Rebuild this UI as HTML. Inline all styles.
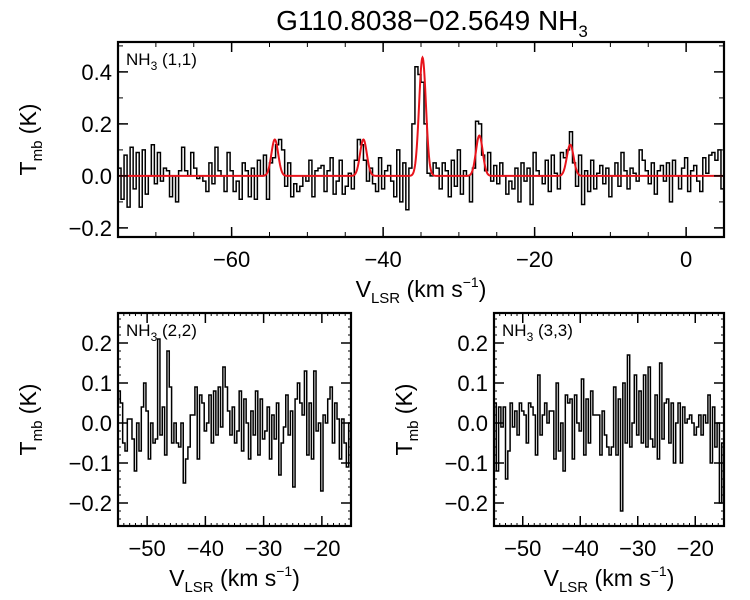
<!DOCTYPE html>
<html><head><meta charset="utf-8"><style>
body{margin:0;background:#fff}
svg{display:block;font-family:"Liberation Sans",Arial,sans-serif}
</style></head><body>
<svg id="fig" width="750" height="600" viewBox="0 0 750 600">
<text x="432" y="30" font-size="28" text-anchor="middle">G110.8038−02.5649 NH<tspan font-size="17" dy="7">3</tspan></text>
</svg>
<script>
// ---- data ----
const spec11 = [0.03,-0.09,0.08,-0.12,0.11,-0.05,0.09,-0.12,0.1,-0.07,
0.0,0.12,-0.03,0.09,-0.02,0.03,0.02,-0.08,0.0,-0.1,
0.02,0.11,0.02,0.0,0.09,0.03,-0.01,0.0,-0.02,-0.06,
0.05,-0.03,0.11,0.02,0.0,-0.06,0.09,0.02,-0.06,-0.02,
-0.09,0.05,0.02,-0.08,0.03,-0.09,0.06,0.0,0.08,-0.09,
0.05,0.07,0.12,0.14,0.1,-0.04,0.05,-0.08,-0.03,-0.06,
-0.04,0.0,-0.02,0.06,-0.08,0.02,0.03,0.04,-0.06,0.02,
0.07,-0.07,-0.02,0.06,-0.07,-0.04,0.01,-0.05,0.06,0.14,
0.12,0.06,-0.02,0.03,-0.03,-0.06,0.07,-0.05,0.02,0.04,
-0.02,-0.08,0.1,-0.1,0.05,-0.13,0.03,0.2,0.42,0.39,
0.36,0.2,0.01,0.0,0.05,0.03,-0.05,0.05,0.02,-0.08,
0.06,-0.04,0.1,-0.07,0.02,0.0,-0.1,0.03,0.21,0.2,
0.08,0.02,0.09,-0.02,0.04,-0.03,0.05,0.0,-0.07,-0.02,
-0.05,0.03,-0.1,0.05,-0.02,0.03,-0.11,0.09,0.02,0.0,
-0.03,0.06,-0.06,0.08,0.01,-0.05,0.09,0.07,0.1,0.17,
0.05,-0.04,0.08,-0.11,0.02,-0.06,0.06,-0.05,0.01,0.04,
-0.03,0.03,-0.08,0.0,0.05,-0.04,0.09,0.02,-0.05,0.03,
0.01,-0.02,0.1,0.06,0.02,-0.03,0.05,-0.07,0.02,0.04,
-0.02,0.05,-0.1,0.06,0.0,-0.05,0.03,0.07,-0.06,0.02,
0.04,-0.02,-0.06,0.07,0.01,0.08,0.09,0.06,0.1,-0.05];
const fitCenters = [-54.3,-42.6,-34.8,-27.3,-15.3];
const fitAmps = [0.14,0.14,0.455,0.155,0.12];
const fitSigma = 0.45;
const spec22 = [0.08,0.05,-0.05,-0.07,0.01,0.01,-0.04,-0.12,0.0,-0.07,0.04,0.1,0.03,-0.09,0.0,-0.05,-0.04,0.21,-0.03,0.04,-0.08,0.18,0.09,-0.05,0.0,-0.05,-0.06,0.0,-0.15,-0.09,-0.06,0.02,0.02,0.09,-0.09,0.07,0.05,-0.02,0.0,0.07,-0.05,0.08,-0.03,0.09,-0.01,0.14,0.09,0.03,-0.03,0.04,-0.05,-0.02,0.08,-0.07,0.06,0.0,-0.09,0.03,-0.03,0.08,-0.08,0.06,-0.04,-0.02,0.04,-0.09,0.02,-0.04,0.05,-0.13,-0.05,-0.01,0.07,-0.03,0.03,-0.16,0.06,0.1,0.05,0.02,0.13,-0.08,0.05,-0.09,0.13,-0.02,0.0,-0.17,0.02,0.0,0.06,0.09,-0.05,0.05,0.01,-0.09,0.01,-0.05,-0.11,0.0];
const spec33 = [0.05,-0.12,0.04,-0.01,0.04,-0.14,-0.07,0.05,-0.01,0.03,-0.03,0.05,0.03,0.02,-0.05,0.05,0.04,0.02,-0.08,0.12,-0.03,0.02,0.05,0.0,0.03,0.03,-0.09,0.1,-0.07,0.0,-0.12,0.07,0.05,0.06,-0.09,0.07,0.0,-0.02,0.11,-0.08,0.06,-0.05,0.08,0.02,0.02,0.02,-0.08,0.03,-0.03,-0.06,-0.08,-0.06,0.09,-0.08,0.06,-0.22,0.1,-0.05,0.17,-0.06,0.0,0.12,-0.03,0.08,-0.05,0.12,-0.06,0.14,-0.04,-0.06,0.07,-0.09,0.15,-0.04,0.05,0.06,-0.05,0.05,-0.1,0.0,0.05,-0.1,0.04,0.0,0.01,0.02,0.0,-0.03,-0.01,0.02,-0.03,0.02,0.0,0.07,-0.1,0.04,-0.06,0.0,-0.2,-0.05];
const topXTicks = [-60,-40,-20,0];
const topYTicks = [-0.2,0.0,0.2,0.4];
const botXTicks = [-50,-40,-30,-20];
const botYTicks = [-0.2,-0.1,0.0,0.1,0.2];

const NS="http://www.w3.org/2000/svg";
const svg=document.getElementById('fig');
function mk(tag,attrs,parent){const e=document.createElementNS(NS,tag);for(const k in attrs)e.setAttribute(k,attrs[k]);(parent||svg).appendChild(e);return e;}
let clipId=0;
function panel(o){
  const g=mk('g',{});
  
  
  const sx=v=>o.x0+(v-o.xmin)/(o.xmax-o.xmin)*(o.x1-o.x0);
  const sy=v=>o.y1-(v-o.ymin)/(o.ymax-o.ymin)*(o.y1-o.y0);
  const cid='c'+(clipId++);
  const cp=mk('clipPath',{id:cid},g);
  mk('rect',{x:o.x0,y:o.y0,width:o.x1-o.x0,height:o.y1-o.y0},cp);
  const n=o.data.length, dv=(o.xmax-o.xmin)/n;
  let d='';
  for(let i=0;i<n;i++){
    const a=sx(o.xmin+i*dv), b=sx(o.xmin+(i+1)*dv), y=sy(o.data[i]);
    d+=(i===0?'M'+a+','+y:'L'+a+','+y)+'L'+b+','+y;
  }
  const h=mk('path',{d:d,fill:'none',stroke:'#000','stroke-width':1.5,'clip-path':'url(#'+cid+')'},g);
  
  
  if(o.fit){
    let fd='';
    for(let v=o.xmin,i=0;v<=o.xmax+1e-9;v+=0.05,i++){
      let t=0;for(let k=0;k<fitCenters.length;k++)t+=fitAmps[k]*Math.exp(-0.5*Math.pow((v-fitCenters[k])/fitSigma,2));
      fd+=(i?'L':'M')+sx(v).toFixed(2)+','+sy(t).toFixed(2);
    }
    const f=mk('path',{d:fd,fill:'none',stroke:'#e8141c','stroke-width':2,'clip-path':'url(#'+cid+')'},g);
    
    
  }
  const fr=mk('rect',{x:o.x0,y:o.y0,width:o.x1-o.x0,height:o.y1-o.y0,fill:'none',stroke:'#000','stroke-width':2.2},g);
  
  
  for(let v=Math.ceil(o.xmin/o.xminor)*o.xminor;v<=o.xmax;v+=o.xminor){
    const x=sx(v);
    mk('line',{x1:x,x2:x,y1:o.y1,y2:o.y1-o.mlen,stroke:'#000','stroke-width':1},g);
    mk('line',{x1:x,x2:x,y1:o.y0,y2:o.y0+o.mlen,stroke:'#000','stroke-width':1},g);
  }
  for(let v=Math.ceil(o.ymin/o.yminor-1e-9)*o.yminor;v<=o.ymax;v+=o.yminor){
    const y=sy(v);
    mk('line',{x1:o.x0,x2:o.x0+o.mlen,y1:y,y2:y,stroke:'#000','stroke-width':1},g);
    mk('line',{x1:o.x1,x2:o.x1-o.mlen,y1:y,y2:y,stroke:'#000','stroke-width':1},g);
  }
  o.xt.forEach(v=>{
    const x=sx(v);
    mk('line',{x1:x,x2:x,y1:o.y1,y2:o.y1-10,stroke:'#000','stroke-width':1.5},g);
    mk('line',{x1:x,x2:x,y1:o.y0,y2:o.y0+10,stroke:'#000','stroke-width':1.5},g);
    const t=mk('text',{x:x,y:o.y1+30,'font-size':22,'text-anchor':'middle'},g);
    t.textContent=(v<0?'\u2212'+(-v):String(v));
    
    
  });
  o.yt.forEach(v=>{
    const y=sy(v);
    mk('line',{x1:o.x0,x2:o.x0+10,y1:y,y2:y,stroke:'#000','stroke-width':1.5},g);
    mk('line',{x1:o.x1,x2:o.x1-10,y1:y,y2:y,stroke:'#000','stroke-width':1.5},g);
    const t=mk('text',{x:o.x0-6,y:y+8,'font-size':22,'text-anchor':'end'},g);
    t.textContent=(v<0?'\u2212':'')+Math.abs(v).toFixed(1);
    
    
  });
  const xt=mk('text',{x:(o.x0+o.x1)/2,y:o.y1+60,'font-size':23,'text-anchor':'middle'},g);
  xt.innerHTML='V<tspan font-size="15" dy="6">LSR</tspan><tspan dy="-6"> (km s</tspan><tspan font-size="14" dy="-10">−1</tspan><tspan dy="10">)</tspan>';
  
  
  const cy=(o.y0+o.y1)/2, cx=o.x0-82;
  const yt=mk('text',{x:cx,y:cy,'font-size':23,'text-anchor':'middle',transform:'rotate(-90 '+cx+' '+cy+')'},g);
  yt.innerHTML='T<tspan font-size="15" dy="6">mb</tspan><tspan dy="-6"> (K)</tspan>';
  
  
  const lb=mk('text',{x:o.x0+8,y:o.y0+23,'font-size':17},g);
  lb.innerHTML='NH<tspan font-size="12" dy="5">3</tspan><tspan dy="-5"> '+o.label+'</tspan>';
  
  
}
panel({name:'panel-nh3-11',x0:118,x1:724,y0:42,y1:237,xmin:-75,xmax:5,ymin:-0.235,ymax:0.515,data:spec11,fit:true,xt:topXTicks,yt:topYTicks,xminor:5,yminor:0.1,mlen:5,label:'(1,1)'});
panel({name:'panel-nh3-22',x0:118,x1:351,y0:313,y1:526,xmin:-55,xmax:-15,ymin:-0.2575,ymax:0.275,data:spec22,fit:false,xt:botXTicks,yt:botYTicks,xminor:1,yminor:0.02,mlen:3,label:'(2,2)'});
panel({name:'panel-nh3-33',x0:494,x1:724,y0:313,y1:526,xmin:-55,xmax:-15,ymin:-0.2575,ymax:0.275,data:spec33,fit:false,xt:botXTicks,yt:botYTicks,xminor:1,yminor:0.02,mlen:3,label:'(3,3)'});
</script>
</body></html>
